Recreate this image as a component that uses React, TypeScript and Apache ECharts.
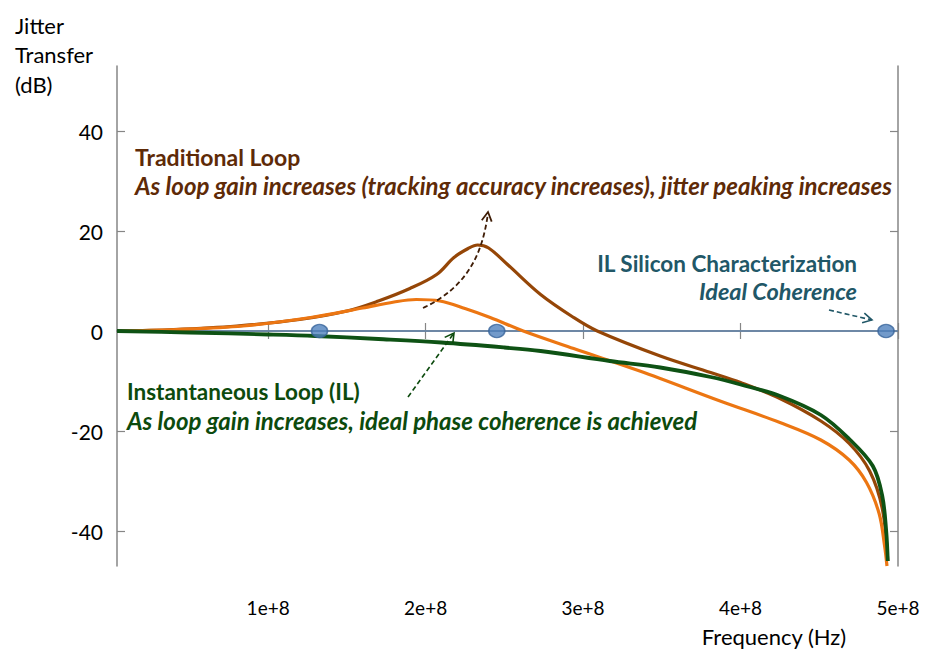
import React, { useEffect, useRef } from 'react';
import * as echarts from 'echarts';

// tick positions
const xTicks = [1e8, 2e8, 3e8, 4e8, 5e8];
const yTicks = [-40, -20, 0, 20, 40];

// Traditional loop, high loop gain (dark brown)
const tradFreq = [0.04e8, 0.4e8, 0.8e8, 1.2e8, 1.5e8, 1.7e8, 1.9e8, 2.07e8, 2.18e8, 2.27e8, 2.33e8, 2.4e8, 2.52e8, 2.73e8, 2.94e8, 3.09e8, 3.49e8, 3.81e8, 4.0e8, 4.25e8, 4.51e8, 4.69e8, 4.82e8, 4.9e8, 4.935e8];
const tradDb = [0, 0.3, 1.0, 2.3, 4.0, 6.0, 8.5, 11.3, 14.7, 16.5, 17.2, 16.6, 13.3, 7.3, 2.7, 0, -5, -8.3, -10.3, -13.5, -18, -22.5, -28, -35.5, -46];

// Traditional loop, lower loop gain (orange)
const lowGainFreq = [0.04e8, 0.42e8, 0.84e8, 1.27e8, 1.6e8, 1.8e8, 1.94e8, 2.09e8, 2.25e8, 2.41e8, 2.62e8, 2.94e8, 3.36e8, 3.87e8, 4.25e8, 4.51e8, 4.69e8, 4.8e8, 4.88e8, 4.915e8, 4.93e8];
const lowGainDb = [0, 0.3, 1.0, 2.7, 4.6, 5.8, 6.3, 6.0, 4.5, 2.7, 0, -3.5, -8, -14, -18.3, -21.8, -25.8, -30.3, -36.5, -43, -47];

// Instantaneous loop (dark green)
const ilFreq = [0.04e8, 0.5e8, 1.0e8, 1.3e8, 1.7e8, 2.1e8, 2.5e8, 2.73e8, 3.17e8, 3.49e8, 3.81e8, 4.0e8, 4.25e8, 4.51e8, 4.69e8, 4.84e8, 4.9e8, 4.925e8, 4.935e8];
const ilDb = [0, -0.3, -0.7, -1.0, -1.6, -2.3, -3.3, -4, -6, -7.3, -9.2, -10.7, -13, -16.8, -21.6, -27, -33, -40, -46];

// IL silicon characterization points (ideal coherence)
const siliconFreq = [1.326e8, 2.452e8, 4.924e8];
const siliconDb = [0, 0, 0];

// ideal 0 dB reference
const refFreq = [0.04e8, 5e8];
const refDb = [0, 0];

const FONT = 'Lato, "Open Sans", sans-serif';
const BROWN_TEXT = '#5e2a07';
const GREEN_TEXT = '#0c4a0d';
const TEAL_TEXT = '#215767';

const zip = (xs: number[], ys: number[]) => xs.map((x, i) => [x, ys[i]]);

// open arrow head at (x2,y2) coming from (x1,y1)
const chevron = (x1: number, y1: number, x2: number, y2: number, len = 9, half = 5) => {
  const dx = x2 - x1;
  const dy = y2 - y1;
  const d = Math.hypot(dx, dy);
  const ux = dx / d;
  const uy = dy / d;
  const bx = x2 - ux * len;
  const by = y2 - uy * len;
  return [
    [bx - uy * half, by + ux * half],
    [x2, y2],
    [bx + uy * half, by - ux * half],
  ];
};

const text = (t: string, x: number, y: number, fill: string, opts: any = {}) => ({
  type: 'text',
  x,
  y,
  style: {
    text: t,
    fill,
    fontFamily: FONT,
    fontSize: 22,
    textVerticalAlign: 'middle',
    ...opts,
  },
});

const App: React.FC = () => {
  const chartRef = useRef<HTMLDivElement>(null);

  useEffect(() => {
    if (!chartRef.current) return;
    const chart = echarts.init(chartRef.current, null, { renderer: 'svg' });

    const frame = { lineStyle: { color: '#868686', width: 1.5 } };
    const tick = { inside: true, length: 8, lineStyle: { color: '#868686', width: 1.2 } };

    const option = {
      animation: false,
      backgroundColor: '#ffffff',
      grid: { left: 117, right: 46, top: 66, bottom: 99 },
      xAxis: [
        {
          type: 'value',
          min: 0.04e8,
          max: 5e8,
          axisLine: frame,
          splitLine: { show: false },
          axisTick: { ...tick, customValues: xTicks },
          axisLabel: {
            customValues: xTicks,
            formatter: (v: number) => `${Math.round(v / 1e8)}e+8`,
            fontFamily: FONT,
            fontSize: 19,
            color: '#000',
            margin: 32,
          },
        },
        {
          type: 'value',
          position: 'top',
          min: 0.04e8,
          max: 5e8,
          axisLine: frame,
          splitLine: { show: false },
          axisTick: { ...tick, customValues: xTicks },
          axisLabel: { show: false },
        },
      ],
      yAxis: [
        {
          type: 'value',
          min: -47,
          max: 53,
          axisLine: { show: true, ...frame },
          splitLine: { show: false },
          axisTick: { show: true, ...tick, customValues: yTicks },
          axisLabel: {
            customValues: yTicks,
            fontFamily: FONT,
            fontSize: 21,
            color: '#000',
            margin: 14,
          },
        },
        {
          type: 'value',
          position: 'right',
          min: -47,
          max: 53,
          axisLine: { show: true, ...frame },
          splitLine: { show: false },
          axisTick: { show: true, ...tick, customValues: yTicks },
          axisLabel: { show: false },
        },
      ],
      series: [
        {
          name: 'Ideal',
          type: 'line',
          data: zip(refFreq, refDb),
          symbol: 'none',
          lineStyle: { color: '#4f81bd', width: 1.2 },
          z: 1,
        },
        {
          name: 'Traditional Loop (high gain)',
          type: 'line',
          data: zip(tradFreq, tradDb),
          symbol: 'none',
          smooth: 0.35,
          lineStyle: { color: '#954607', width: 3.2 },
          z: 2,
        },
        {
          name: 'Traditional Loop',
          type: 'line',
          data: zip(lowGainFreq, lowGainDb),
          symbol: 'none',
          smooth: 0.35,
          lineStyle: { color: '#ec7612', width: 3.2 },
          z: 3,
        },
        {
          name: 'Instantaneous Loop',
          type: 'line',
          data: zip(ilFreq, ilDb),
          symbol: 'none',
          smooth: 0.35,
          lineStyle: { color: '#0e5214', width: 3.8 },
          z: 4,
        },
        {
          name: 'IL Silicon',
          type: 'scatter',
          data: zip(siliconFreq, siliconDb),
          symbol: 'circle',
          symbolSize: [16, 13],
          itemStyle: { color: '#4f81bd', borderColor: '#3a659b', borderWidth: 1.5 },
          z: 5,
        },
      ],
      graphic: [
        text('Jitter', 15, 25, '#000'),
        text('Transfer', 15, 54, '#000'),
        text('(dB)', 15, 84, '#000'),
        text('Frequency (Hz)', 774, 636, '#000', { textAlign: 'center', fontSize: 22 }),
        text('Traditional Loop', 135, 157, BROWN_TEXT, { fontWeight: 'bold', fontSize: 23 }),
        text('As loop gain increases (tracking accuracy increases), jitter peaking increases', 135, 185, BROWN_TEXT, {
          fontWeight: 'bold',
          fontStyle: 'italic',
          fontSize: 24,
        }),
        text('IL Silicon Characterization', 857, 263, TEAL_TEXT, { fontWeight: 'bold', textAlign: 'right', fontSize: 22.5 }),
        text('Ideal Coherence', 857, 291, TEAL_TEXT, {
          fontWeight: 'bold',
          fontStyle: 'italic',
          textAlign: 'right',
          fontSize: 23.5,
        }),
        text('Instantaneous Loop (IL)', 127, 391, GREEN_TEXT, { fontWeight: 'bold', fontSize: 22.5 }),
        text('As loop gain increases, ideal phase coherence is achieved', 127, 420, GREEN_TEXT, {
          fontWeight: 'bold',
          fontStyle: 'italic',
          fontSize: 24,
        }),
        // brown dashed arrow (peaking grows with gain)
        {
          type: 'bezierCurve',
          shape: { x1: 423, y1: 308, cpx1: 470, cpy1: 286, cpx2: 483, cpy2: 250, x2: 488, y2: 213 },
          style: { stroke: '#3f1d06', lineWidth: 1.8, lineDash: [5, 3], fill: 'none' },
          z: 10,
        },
        {
          type: 'polyline',
          shape: { points: chevron(484, 240, 488, 212) },
          style: { stroke: '#3f1d06', lineWidth: 1.8, fill: 'none' },
          z: 10,
        },
        // green dashed arrow (toward ideal 0 dB)
        {
          type: 'line',
          shape: { x1: 408, y1: 397, x2: 454, y2: 333 },
          style: { stroke: '#0c4a0d', lineWidth: 1.6, lineDash: [5, 3] },
          z: 10,
        },
        {
          type: 'polyline',
          shape: { points: chevron(408, 397, 454, 333) },
          style: { stroke: '#0c4a0d', lineWidth: 1.6, fill: 'none' },
          z: 10,
        },
        // teal dashed arrow (ideal coherence point)
        {
          type: 'line',
          shape: { x1: 829, y1: 310, x2: 872, y2: 320 },
          style: { stroke: '#215767', lineWidth: 1.6, lineDash: [5, 3] },
          z: 10,
        },
        {
          type: 'polyline',
          shape: { points: chevron(829, 310, 872, 320) },
          style: { stroke: '#215767', lineWidth: 1.6, fill: 'none' },
          z: 10,
        },
      ],
    };

    chart.setOption(option as any);
    return () => {
      chart.dispose();
    };
  }, []);

  return (
    <div
      ref={chartRef}
      style={{ position: 'fixed', left: 0, top: 0, width: 944, height: 665, background: '#fff' }}
    />
  );
};

export default App;
